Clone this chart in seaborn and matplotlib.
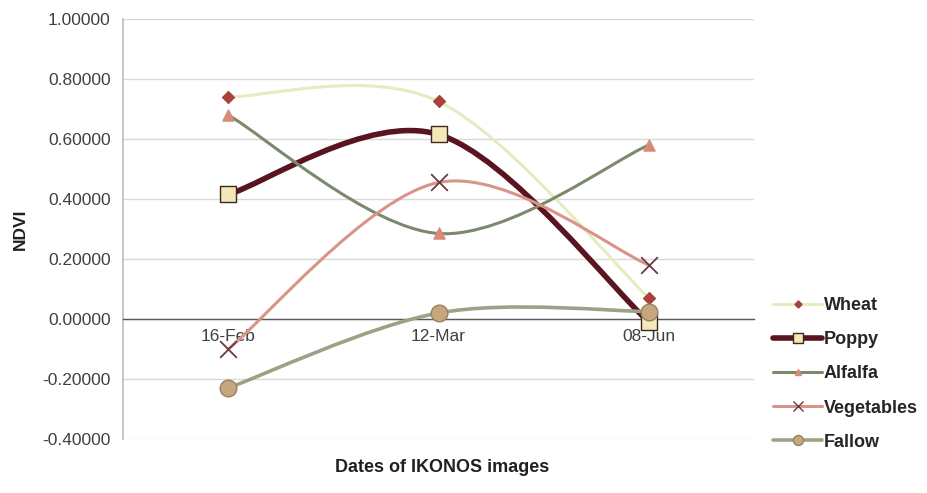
import matplotlib.pyplot as plt
import pandas as pd
import seaborn as sns
from matplotlib.lines import Line2D
from matplotlib.path import Path
from matplotlib.patches import PathPatch
from matplotlib.ticker import FixedLocator, FormatStrFormatter

# data
dates = ["16-Feb", "12-Mar", "08-Jun"]
wheat = [0.74, 0.725, 0.07]
poppy = [0.415, 0.615, -0.01]
alfalfa = [0.68, 0.285, 0.58]
vegetables = [-0.10, 0.455, 0.18]
fallow = [-0.23, 0.02, 0.025]

series = {
    "Wheat": wheat,
    "Poppy": poppy,
    "Alfalfa": alfalfa,
    "Vegetables": vegetables,
    "Fallow": fallow,
}

# style per series: line colour, line width, marker, marker size, face, edge
styles = {
    "Wheat": dict(lc="#e6ecc2", lw=2.2, m="D", ms=6, fc="#a8423a", ec="#a8423a"),
    "Poppy": dict(lc="#5a1420", lw=4.0, m="s", ms=11, fc="#f4e8b8", ec="#3a2a20"),
    "Alfalfa": dict(lc="#7b8a6c", lw=2.2, m="^", ms=8, fc="#d98a78", ec="#d98a78"),
    "Vegetables": dict(lc="#d8948a", lw=2.2, m="x", ms=12, fc="#6a3a44", ec="#6a3a44"),
    "Fallow": dict(lc="#9ba286", lw=2.6, m="o", ms=12, fc="#c4a77c", ec="#9a8060"),
}

sns.set_theme(style="white")
plt.rcParams["font.family"] = ["Liberation Sans", "DejaVu Sans"]

rows = []
for name, vals in series.items():
    for i, (d, v) in enumerate(zip(dates, vals)):
        rows.append({"series": name, "date": d, "pos": i, "ndvi": v})
df = pd.DataFrame(rows)


def smooth_path(xs, ys):
    # Bezier smoothing similar to the spreadsheet "smoothed line" option
    n = len(xs)
    verts = [(xs[0], ys[0])]
    codes = [Path.MOVETO]
    for i in range(n - 1):
        x0, y0 = xs[max(i - 1, 0)], ys[max(i - 1, 0)]
        x1, y1 = xs[i], ys[i]
        x2, y2 = xs[i + 1], ys[i + 1]
        x3, y3 = xs[min(i + 2, n - 1)], ys[min(i + 2, n - 1)]
        c1 = (x1 + (x2 - x0) / 6, y1 + (y2 - y0) / 6)
        c2 = (x2 - (x3 - x1) / 6, y2 - (y3 - y1) / 6)
        verts += [c1, c2, (x2, y2)]
        codes += [Path.CURVE4] * 3
    return Path(verts, codes)


fig, ax = plt.subplots(figsize=(9.27, 4.93), dpi=100)
fig.subplots_adjust(left=0.1327, right=0.8134, top=0.9615, bottom=0.1095)

ax.set_xlim(-0.5, 2.5)
ax.set_ylim(-0.4, 1.0)

# horizontal grid
ax.yaxis.set_major_locator(FixedLocator([-0.4, -0.2, 0.0, 0.2, 0.4, 0.6, 0.8, 1.0]))
ax.grid(axis="y", color="#d9d9d9", linewidth=1.0)
ax.grid(axis="x", visible=False)
ax.set_axisbelow(True)

handles = []
for name, vals in series.items():
    st = styles[name]
    sub = df[df["series"] == name]
    patch = PathPatch(smooth_path(list(sub["pos"]), list(sub["ndvi"])),
                      facecolor="none", edgecolor=st["lc"], linewidth=st["lw"],
                      zorder=3, capstyle="round")
    ax.add_patch(patch)
    if st["m"] == "x":
        sns.scatterplot(data=sub, x="pos", y="ndvi", ax=ax, marker="x",
                        s=st["ms"] ** 2, color=st["fc"], linewidth=1.3,
                        zorder=5, legend=False)
    else:
        sns.scatterplot(data=sub, x="pos", y="ndvi", ax=ax, marker=st["m"],
                        s=st["ms"] ** 2, color=st["fc"], edgecolor=st["ec"],
                        linewidth=1.0, zorder=5, legend=False)
    handles.append(Line2D([], [], color=st["lc"], linewidth=st["lw"],
                          marker=st["m"], markersize=st["ms"] * 0.6,
                          markerfacecolor=st["fc"], markeredgecolor=st["ec"],
                          label=name))

# spines: x axis crosses at zero
for s in ["top", "right"]:
    ax.spines[s].set_visible(False)
ax.spines["left"].set_color("#bfbfbf")
ax.spines["bottom"].set_position(("data", 0))
ax.spines["bottom"].set_color("#595959")
ax.spines["bottom"].set_linewidth(1.0)

ax.set_xticks([0, 1, 2])
ax.set_xticklabels(dates)
ax.set_xticks([-0.5, 0.5, 1.5, 2.5], minor=True)
ax.tick_params(axis="x", which="major", length=0, pad=7, labelsize=12.5,
               labelcolor="#404040")
ax.tick_params(axis="x", which="minor", length=5, width=1, color="#595959",
               direction="out")
ax.tick_params(axis="y", length=5, width=1, color="#bfbfbf", direction="out",
               labelsize=12.5, labelcolor="#404040", pad=4)
ax.yaxis.set_major_formatter(FormatStrFormatter("%.5f"))

ax.set_xlabel("")
ax.set_ylabel("NDVI", fontweight="bold", fontsize=12.5, color="#202020",
              labelpad=10)
fig.text(0.477, 0.052, "Dates of IKONOS images", ha="center", va="center",
         fontweight="bold", fontsize=13, color="#202020")

leg = ax.legend(handles=handles, loc="upper left", bbox_to_anchor=(1.019, 0.355),
                borderaxespad=0, frameon=False, labelspacing=0.95,
                handlelength=2.7, handletextpad=0.1,
                prop={"weight": "bold", "size": 13})
for t in leg.get_texts():
    t.set_color("#262626")

plt.savefig("out.png", dpi=100)
